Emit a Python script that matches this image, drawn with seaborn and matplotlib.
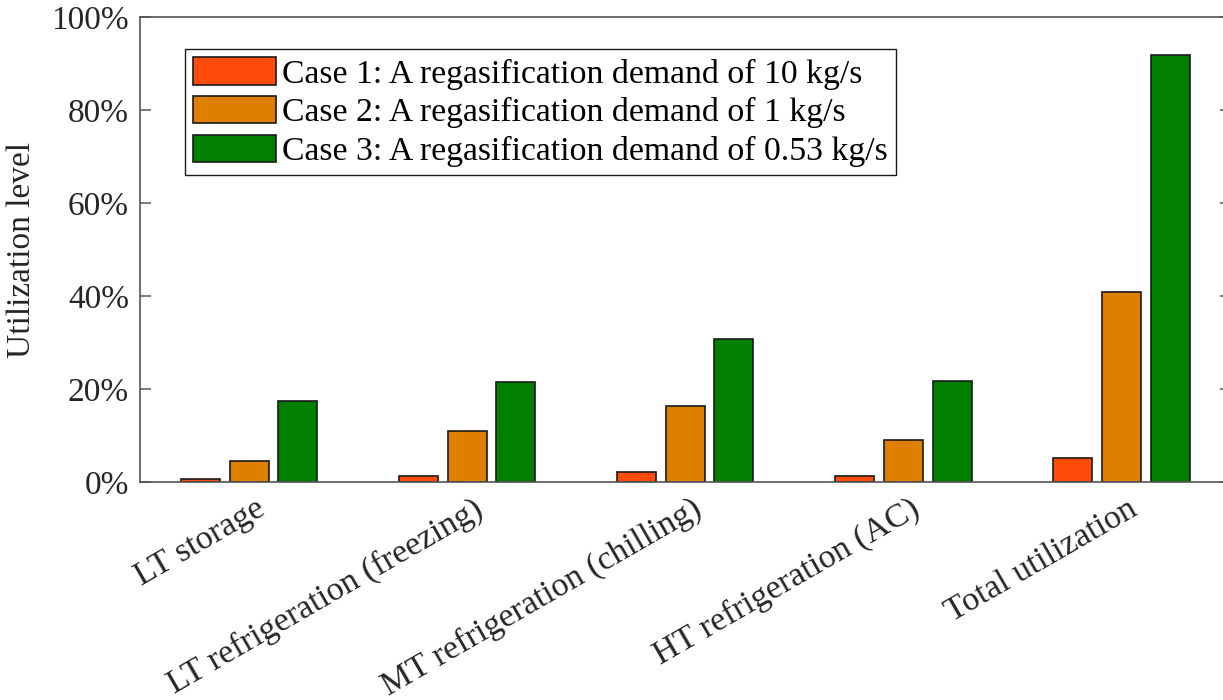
import matplotlib
matplotlib.use("Agg")
import matplotlib.pyplot as plt
import matplotlib.transforms as mtransforms
from matplotlib.ticker import PercentFormatter, MultipleLocator
import numpy as np
import pandas as pd
import seaborn as sns

# Utilization levels (%) per cooling application for three regasification cases
categories = [
    "LT storage",
    "LT refrigeration (freezing)",
    "MT refrigeration (chilling)",
    "HT refrigeration (AC)",
    "Total utilization",
]
case_labels = [
    "Case 1: A regasification demand of 10 kg/s",
    "Case 2: A regasification demand of 1 kg/s",
    "Case 3: A regasification demand of 0.53 kg/s",
]
case1 = [0.7, 1.2, 2.1, 1.2, 5.2]
case2 = [4.6, 10.9, 16.4, 9.0, 40.9]
case3 = [17.5, 21.6, 30.8, 21.8, 91.8]
colors = ["#FF4C0A", "#DF7F00", "#007F00"]

df = pd.DataFrame({
    "category": categories * 3,
    "case": [case_labels[0]] * 5 + [case_labels[1]] * 5 + [case_labels[2]] * 5,
    "value": case1 + case2 + case3,
})

sns.set_theme(style="white")
plt.rcParams["font.family"] = ["Liberation Serif", "DejaVu Serif"]
plt.rcParams["mathtext.fontset"] = "stix"

W, H = 1223, 700
fig = plt.figure(figsize=(W / 100, H / 100), dpi=100)
# the plot box runs slightly past the right edge of the canvas
ax_left, ax_right, ax_top, ax_bottom = 140, 1230.5, 17, 482
ax = fig.add_axes([ax_left / W, 1 - ax_bottom / H,
                   (ax_right - ax_left) / W, (ax_bottom - ax_top) / H])

sns.barplot(
    data=df, x="category", y="value", hue="case",
    order=categories, hue_order=case_labels,
    palette=colors, saturation=1, width=0.67, gap=0.2,
    edgecolor="#1a1a1a", linewidth=1.2, ax=ax,
)

ax.set_xlim(-0.5, 4.5)
ax.set_ylim(0, 100)
ax.yaxis.set_major_locator(MultipleLocator(20))
ax.yaxis.set_major_formatter(PercentFormatter(xmax=100, decimals=0))

axis_color = "#555555"
text_color = "#262626"
for side in ["left", "right", "top", "bottom"]:
    ax.spines[side].set_visible(True)
    ax.spines[side].set_color(axis_color)
    ax.spines[side].set_linewidth(1.2)

ax.tick_params(axis="y", which="major", direction="in", length=8, width=1.1,
               color=axis_color, left=True, right=True, labelsize=24,
               labelcolor=text_color, pad=8)
ax.tick_params(axis="x", which="major", length=0, labelsize=24.5,
               labelcolor=text_color, pad=6)

ax.set_xlabel("")
ax.set_ylabel("Utilization level", fontsize=24, color=text_color, labelpad=10)

# Rotated category labels anchored at their upper-right corner
offset = mtransforms.ScaledTranslation(6 / 100, -3 / 100, fig.dpi_scale_trans)
for lbl in ax.get_xticklabels():
    lbl.set_rotation(30)
    lbl.set_ha("right")
    lbl.set_va("top")
    lbl.set_rotation_mode("anchor")
    lbl.set_transform(lbl.get_transform() + offset)

leg = ax.legend(
    loc="upper left",
    bbox_to_anchor=((185 - ax_left) / (ax_right - ax_left),
                    (ax_bottom - 49) / (ax_bottom - ax_top)),
    borderaxespad=0,
    fontsize=24.3, frameon=True, fancybox=False, shadow=False,
    handlelength=2.46, handleheight=0.86, handletextpad=0.17,
    labelspacing=0.19, borderpad=0.25, title=None,
)
leg.get_frame().set_edgecolor("#1a1a1a")
leg.get_frame().set_linewidth(1.0)
leg.get_frame().set_alpha(1)
for t in leg.get_texts():
    t.set_color("black")

fig.savefig("out.png", dpi=100)
